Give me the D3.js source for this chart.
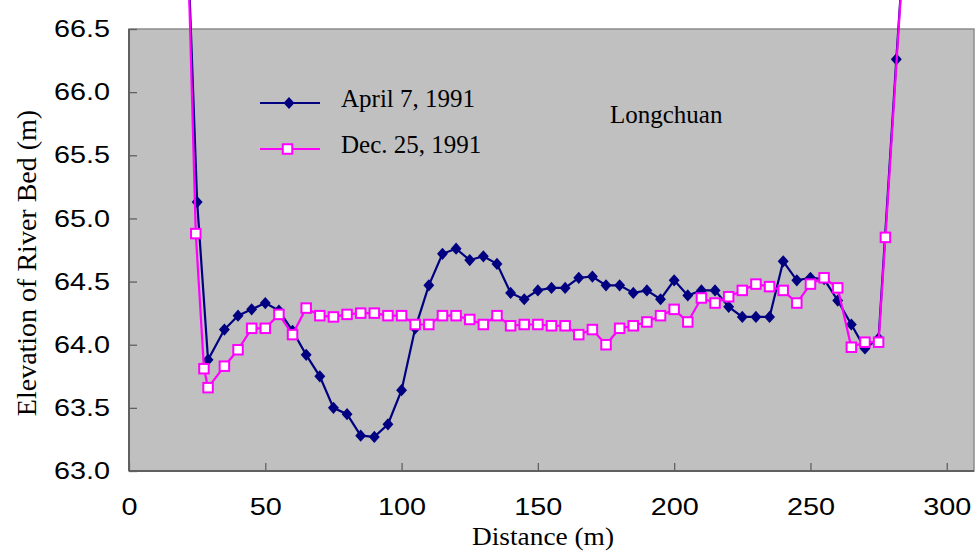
<!DOCTYPE html>
<html>
<head>
<meta charset="utf-8">
<script src="https://cdn.jsdelivr.net/npm/d3@7"></script>
<style>
  body { margin: 0; background: #fff; }
  .tick text { font-family: "Liberation Sans", Arial, sans-serif; font-size: 24px; fill: #000;
    transform-box: fill-box; }
  .y-axis .tick text { transform-origin: right center; transform: scaleX(1.2); }
  .x-axis .tick text { transform-origin: center center; transform: scaleX(1.2); }
  .serif { font-family: "Liberation Serif", "Times New Roman", serif; fill: #000; }
</style>
</head>
<body>
<svg id="canvas" width="975" height="552"></svg>
<script>
// April 7, 1991 survey
const aprDist = [21, 25, 29, 35, 40, 45, 50, 55, 60, 65, 70, 75, 80, 85, 90, 95, 100, 105, 110, 115, 120,
  125, 130, 135, 140, 145, 150, 155, 160, 165, 170, 175, 180, 185, 190, 195, 200, 205, 210, 215, 220,
  225, 230, 235, 240, 245, 250, 255, 260, 265, 270, 275, 281.5, 285];
const aprElev = [67.5, 65.13, 63.88, 64.12, 64.23, 64.28, 64.33, 64.27, 64.11, 63.92, 63.75, 63.50, 63.45,
  63.28, 63.27, 63.37, 63.64, 64.13, 64.47, 64.72, 64.76, 64.67, 64.70, 64.64, 64.41, 64.36, 64.43,
  64.45, 64.45, 64.53, 64.54, 64.47, 64.47, 64.41, 64.43, 64.36, 64.51, 64.39, 64.43, 64.43, 64.30,
  64.22, 64.22, 64.22, 64.66, 64.51, 64.53, 64.52, 64.35, 64.16, 63.97, 64.05, 66.26, 67.4];

// Dec. 25, 1991 survey
const decDist = [21, 24.5, 27.5, 29, 35, 40, 45, 50, 55, 60, 65, 70, 75, 80, 85, 90, 95, 100, 105, 110,
  115, 120, 125, 130, 135, 140, 145, 150, 155, 160, 165, 170, 175, 180, 185, 190, 195, 200, 205, 210,
  215, 220, 225, 230, 235, 240, 245, 250, 255, 260, 265, 270, 275, 277.5, 285];
const decElev = [67.6, 64.88, 63.81, 63.66, 63.83, 63.96, 64.13, 64.13, 64.24, 64.08, 64.29, 64.23, 64.22,
  64.24, 64.25, 64.25, 64.23, 64.23, 64.16, 64.16, 64.23, 64.23, 64.20, 64.16, 64.23, 64.15, 64.16,
  64.16, 64.15, 64.15, 64.08, 64.12, 64.00, 64.13, 64.15, 64.18, 64.23, 64.28, 64.18, 64.37, 64.33,
  64.38, 64.43, 64.48, 64.46, 64.43, 64.33, 64.48, 64.53, 64.45, 63.98, 64.02, 64.02, 64.85, 67.4];

const xTicks = [0, 50, 100, 150, 200, 250, 300];
const yTicks = [63.0, 63.5, 64.0, 64.5, 65.0, 65.5, 66.0, 66.5];
const seriesNames = ["April 7, 1991", "Dec. 25, 1991"];

const svg = d3.select("#canvas");
const plotL = 129, plotR = 974, plotT = 29, plotB = 471;

const x = d3.scaleLinear().domain([0, 310]).range([plotL, plotR]);
const y = d3.scaleLinear().domain([63, 66.5]).range([plotB, plotT]);

// plot area
svg.append("rect")
  .attr("x", plotL).attr("y", plotT)
  .attr("width", plotR - plotL).attr("height", plotB - plotT)
  .attr("fill", "#c0c0c0")
  .attr("stroke", "#8c8c8c").attr("stroke-width", 1.5);

const yAxis = svg.append("g").attr("class", "y-axis")
  .attr("transform", `translate(${plotL},0)`)
  .call(d3.axisLeft(y).tickValues(yTicks).tickFormat(d3.format(".1f")).tickSize(-8).tickPadding(19));

const xAxis = svg.append("g").attr("class", "x-axis")
  .attr("transform", `translate(0,${plotB})`)
  .call(d3.axisBottom(x).tickValues(xTicks).tickSize(-8).tickPadding(27));

[yAxis, xAxis].forEach(g => {
  g.selectAll(".domain").remove();
  g.selectAll(".tick line").attr("stroke", "#606060").attr("stroke-width", 1.3);
});

// axis lines
svg.append("line").attr("x1", plotL).attr("x2", plotL).attr("y1", plotT).attr("y2", plotB)
  .attr("stroke", "#606060").attr("stroke-width", 2);
svg.append("line").attr("x1", plotL).attr("x2", plotR).attr("y1", plotB).attr("y2", plotB)
  .attr("stroke", "#606060").attr("stroke-width", 2);

const line = d3.line().x(d => x(d[0])).y(d => y(d[1]));
const aprData = d3.zip(aprDist, aprElev);
const decData = d3.zip(decDist, decElev);

const diamond = d3.symbol().type(d3.symbolDiamond2).size(76);
const sq = 9.5;

// April line + diamonds
svg.append("path").datum(aprData)
  .attr("fill", "none").attr("stroke", "#000080").attr("stroke-width", 2.2)
  .attr("d", line);
svg.append("g").selectAll("path").data(aprData).join("path")
  .attr("transform", d => `translate(${x(d[0])},${y(d[1])}) scale(1,1.12)`)
  .attr("d", diamond).attr("fill", "#000080");

// December line + squares
svg.append("path").datum(decData)
  .attr("fill", "none").attr("stroke", "#ff00ff").attr("stroke-width", 2.2)
  .attr("d", line);
svg.append("g").selectAll("rect").data(decData).join("rect")
  .attr("x", d => x(d[0]) - sq / 2).attr("y", d => y(d[1]) - sq / 2)
  .attr("width", sq).attr("height", sq)
  .attr("fill", "#fff").attr("stroke", "#ff00ff").attr("stroke-width", 2);

// legend
const legend = svg.append("g");
const legY = [103, 149];
legend.selectAll("line").data(legY).join("line")
  .attr("x1", 260).attr("x2", 320).attr("y1", d => d).attr("y2", d => d)
  .attr("stroke", (d, i) => i ? "#ff00ff" : "#000080").attr("stroke-width", 2.2);
legend.append("path").attr("transform", `translate(289,${legY[0]}) scale(1,1.12)`)
  .attr("d", diamond).attr("fill", "#000080");
legend.append("rect").attr("x", 287.5 - sq / 2).attr("y", legY[1] - sq / 2).attr("width", sq).attr("height", sq)
  .attr("fill", "#fff").attr("stroke", "#ff00ff").attr("stroke-width", 2);
legend.selectAll("text").data(seriesNames).join("text")
  .attr("class", "serif")
  .attr("x", 341).attr("y", (d, i) => legY[i] + 4)
  .attr("font-size", 25)
  .text(d => d);

svg.append("text").attr("class", "serif")
  .attr("x", 610).attr("y", 123).attr("font-size", 25)
  .text("Longchuan");

// axis titles
svg.append("text").attr("class", "serif")
  .attr("x", 543).attr("y", 545).attr("text-anchor", "middle").attr("font-size", 26)
  .attr("textLength", 142).attr("lengthAdjust", "spacingAndGlyphs")
  .text("Distance (m)");
svg.append("text").attr("class", "serif")
  .attr("transform", "translate(36,263) rotate(-90)")
  .attr("text-anchor", "middle").attr("font-size", 28)
  .text("Elevation of River Bed (m)");
</script>
</body>
</html>
